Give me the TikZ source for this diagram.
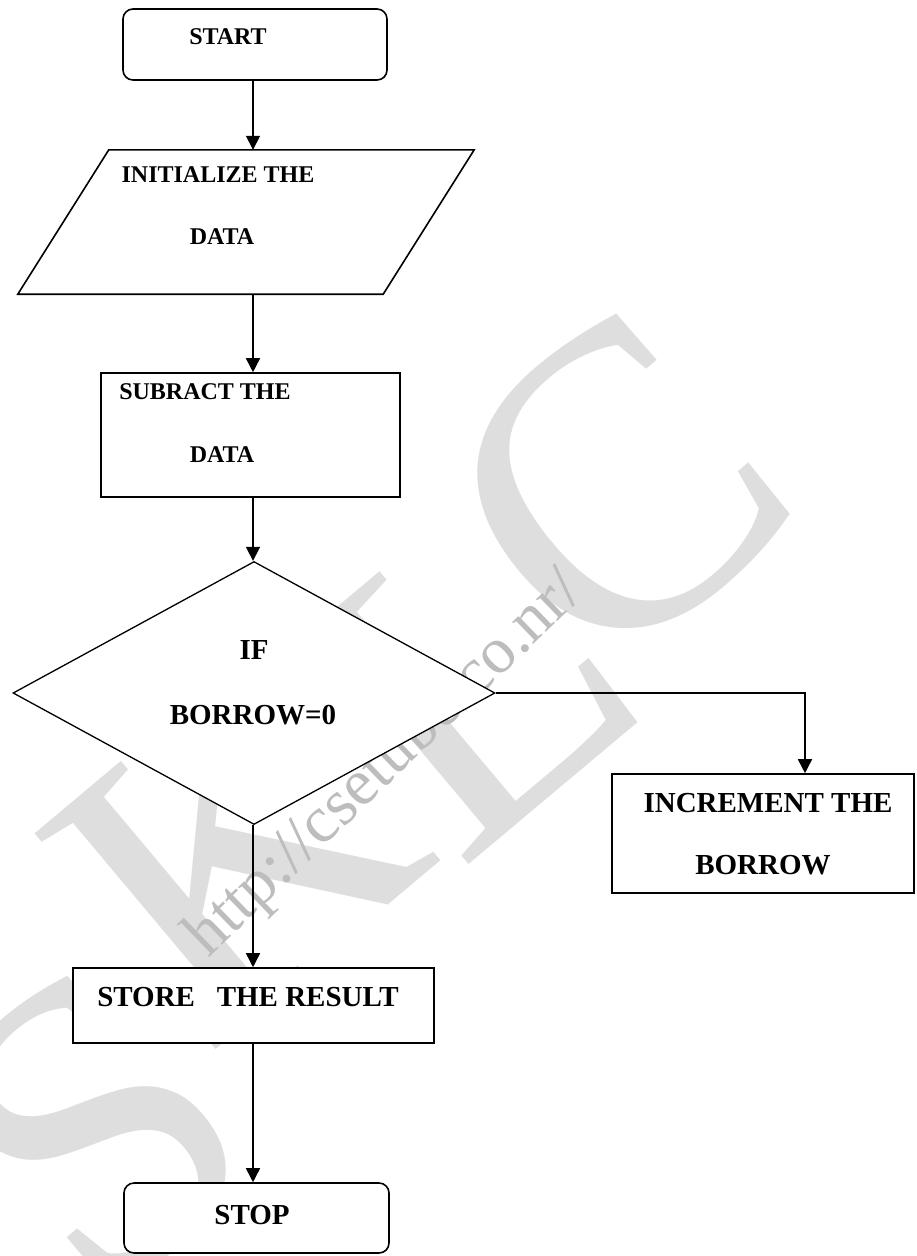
\documentclass[tikz,border=0pt]{standalone}
\usepackage{fontspec}
\setmainfont{Liberation Serif}
\usetikzlibrary{shapes.geometric,arrows.meta}
\definecolor{wmark}{HTML}{DEDEDE}
\definecolor{urlgray}{HTML}{BDBDBD}
\tikzset{
  box/.style={draw, line width=1.6pt, fill=white, inner sep=0pt},
  term/.style={box, rounded corners=10pt},
  lbl/.style={font=\bfseries\fontsize{24}{28}\selectfont, inner sep=0pt},
  biglbl/.style={font=\bfseries\fontsize{29}{33}\selectfont, inner sep=0pt},
  flow/.style={line width=1.6pt, -{Triangle[width=14pt,length=14pt]}},
  wm/.style={text=wmark, font=\fontsize{430}{430}\selectfont, inner sep=0pt, rotate=40},
}
\begin{document}
\begin{tikzpicture}[x=1pt,y=-1pt]
\useasboundingbox (0,0) rectangle (916,1256);
\fill[white] (0,0) rectangle (916,1256);

% background watermark: large letters and the web address
\begin{scope}
  \clip (0,0) rectangle (916,1256);
  \node[wm] (wS) at (95,1130) {S};
  \node[wm] (wK) at (235,850) {K};
  \node[wm] (wL) at (470,680) {L};
  \node[wm] (wC) at (615,490) {C};
  \node[text=urlgray, font=\fontsize{66}{66}\selectfont, inner sep=0pt, rotate=44]
    (url) at (386,765) {http://csetube.co.nr/};
\end{scope}

\coordinate (spine) at (253,0);

% flowchart shapes
\node[term, minimum width=264pt, minimum height=71pt] (start) at (255,44.5) {};
\node[minimum width=365pt, minimum height=144pt, inner sep=0pt] (init) at (246,222) {};
\draw[box] ([xshift=45.5pt]init.north west) -- ([xshift=45.5pt]init.north east)
  -- ([xshift=-45.5pt]init.south east) -- ([xshift=-45.5pt]init.south west) -- cycle;
\node[box, minimum width=299pt, minimum height=124pt] (sub) at (250.5,435) {};
\node[box, diamond, line width=1.3pt, minimum width=482pt, minimum height=263pt] (dec) at (254,693) {};
\node[box, minimum width=302pt, minimum height=119pt] (inc) at (763,833.5) {};
\node[box, minimum width=361pt, minimum height=75pt] (store) at (253.5,1005.5) {};
\node[term, minimum width=265pt, minimum height=70pt] (stop) at (256.5,1218) {};

% labels
\node[lbl] (tStart) at (228,37) {START};
\node[lbl] (tInit1) at (218,175) {INITIALIZE THE};
\node[lbl] (tInit2) at (222,237) {DATA};
\node[lbl] (tSub1) at (205,392) {SUBRACT THE};
\node[lbl] (tSub2) at (222,455) {DATA};
\node[biglbl] (tIf1) at (254,650) {IF};
\node[biglbl] (tIf2) at (253,715) {BORROW=0};
\node[biglbl] (tInc1) at (768,803) {INCREMENT THE};
\node[biglbl] (tInc2) at (763,865) {BORROW};
\node[biglbl] (tStore) at (248,997) {STORE\ \ \ THE RESULT};
\node[biglbl] (tStop) at (252,1215) {STOP};

% connectors
\draw[flow] (start.south -| spine) -- (init.north -| spine);
\draw[flow] (init.south -| spine) -- (sub.north -| spine);
\draw[flow] (sub.south -| spine) -- (dec.north -| spine);
\draw[flow] (dec.east) -| ([xshift=42pt]inc.north);
\draw[flow] (dec.south -| spine) -- (store.north -| spine);
\draw[flow] (store.south -| spine) -- (stop.north -| spine);
\end{tikzpicture}
\end{document}
